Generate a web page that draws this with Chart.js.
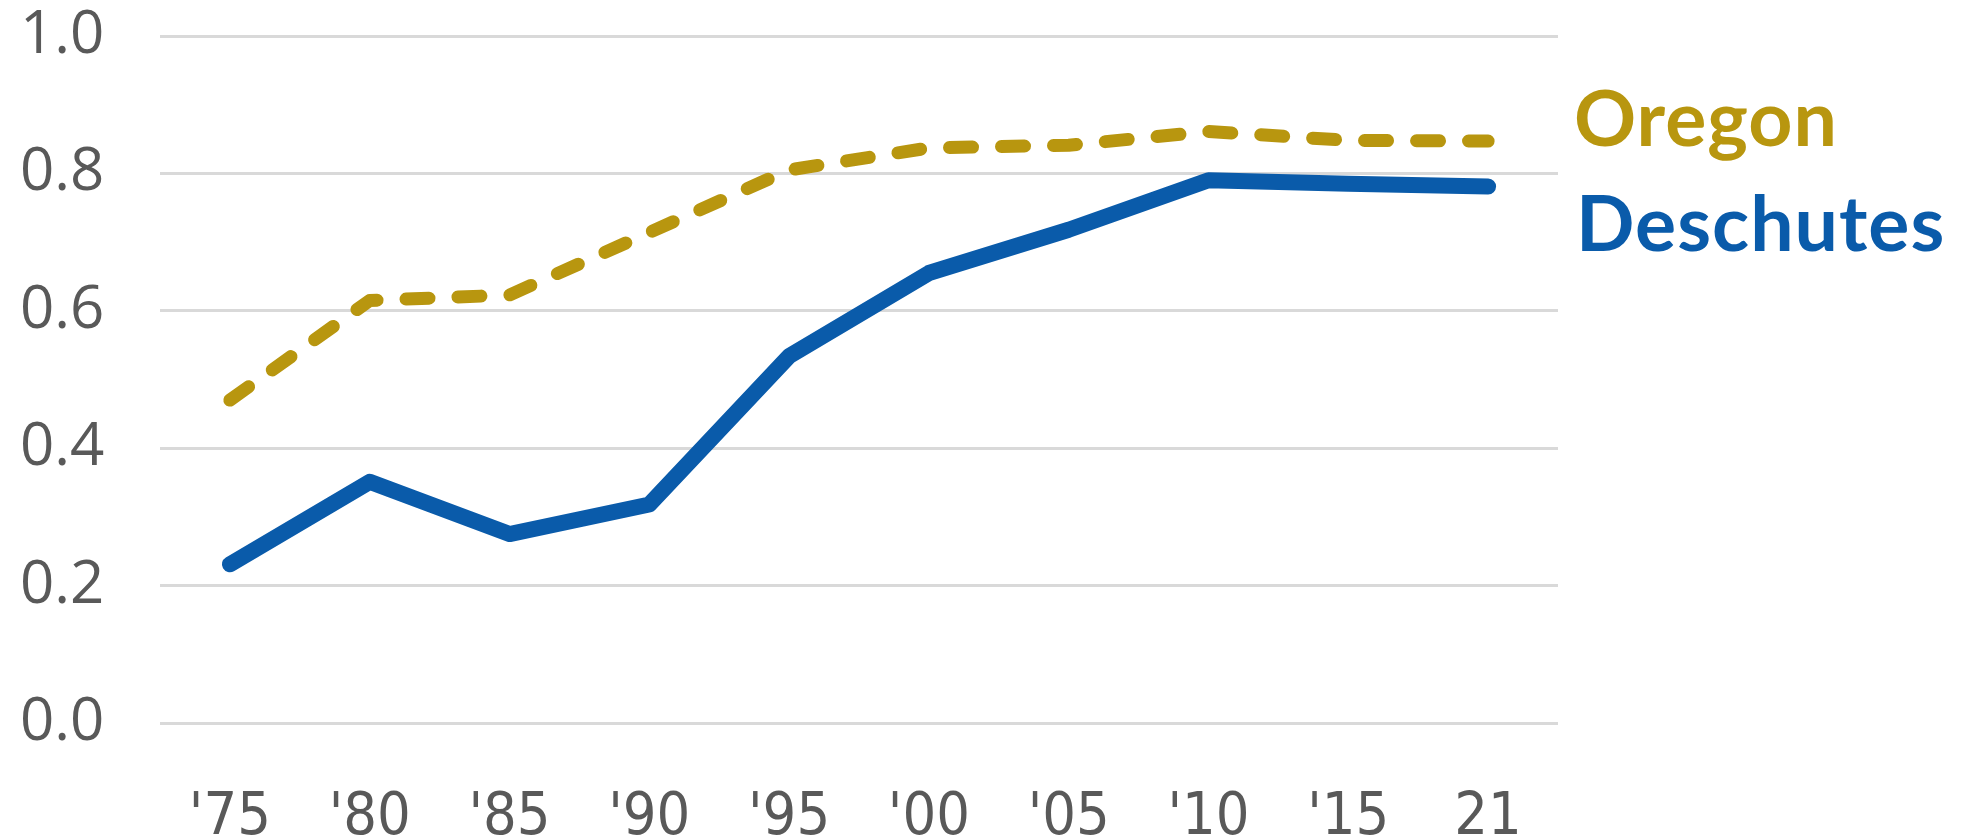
<!DOCTYPE html>
<html>
<head>
<meta charset="utf-8">
<script src="https://cdn.jsdelivr.net/npm/chart.js@4/dist/chart.umd.min.js"></script>
<style>
  html, body { margin: 0; padding: 0; background: #ffffff; }
  #wrap { width: 1965px; height: 836px; position: relative; }
  canvas { display: block; }
</style>
</head>
<body>
<div id="wrap"><canvas id="chart" width="1965" height="836"></canvas></div>
<script>
// Survey years along the x axis
const years = ["'75", "'80", "'85", "'90", "'95", "'00", "'05", "'10", "'15", "21"];

// Share values per year (0 to 1)
const oregon    = [0.470, 0.615, 0.623, 0.714, 0.805, 0.837, 0.841, 0.861, 0.848, 0.847];
const deschutes = [0.231, 0.351, 0.275, 0.318, 0.534, 0.655, 0.718, 0.790, 0.785, 0.781];

// Y axis tick values
const yTicks = [0.0, 0.2, 0.4, 0.6, 0.8, 1.0];

// Series names drawn beside the plot
const seriesNames = ["Oregon", "Deschutes"];

const GOLD = '#B8960F';
const BLUE = '#0A5BAA';

// Draws the series names to the right of the plot area
const sideLabels = {
  id: 'sideLabels',
  afterDatasetsDraw(chart) {
    const { ctx, chartArea } = chart;
    ctx.save();
    ctx.font = "bold 77px Lato, 'Open Sans', sans-serif";
    ctx.textAlign = 'left';
    ctx.textBaseline = 'alphabetic';
    if ('letterSpacing' in ctx) ctx.letterSpacing = '1px';
    ctx.fillStyle = GOLD;
    ctx.fillText(seriesNames[0], chartArea.right + 16, chartArea.top + 110);
    ctx.fillStyle = BLUE;
    ctx.fillText(seriesNames[1], chartArea.right + 18, chartArea.top + 215);
    ctx.restore();
  }
};

new Chart(document.getElementById('chart'), {
  type: 'line',
  data: {
    labels: years,
    datasets: [
      {
        label: seriesNames[0],
        data: oregon,
        borderColor: GOLD,
        borderWidth: 13,
        borderDash: [23, 29],
        borderCapStyle: 'round',
        borderJoinStyle: 'round',
        pointRadius: 0,
        tension: 0,
        fill: false
      },
      {
        label: seriesNames[1],
        data: deschutes,
        borderColor: BLUE,
        borderWidth: 16,
        borderCapStyle: 'round',
        borderJoinStyle: 'round',
        pointRadius: 0,
        tension: 0,
        fill: false
      }
    ]
  },
  options: {
    responsive: false,
    devicePixelRatio: 1,
    animation: false,
    layout: { padding: { top: 36, right: 407, bottom: 0, left: 20 } },
    plugins: {
      legend: { display: false },
      tooltip: { enabled: false },
      title: { display: false }
    },
    scales: {
      x: {
        offset: true,
        grid: { display: false },
        border: { display: false },
        ticks: {
          color: '#595959',
          padding: 52,
          maxRotation: 0,
          autoSkip: false,
          font: { family: "'Liberation Sans Narrow', 'DejaVu Sans Condensed', sans-serif", size: 59 }
        },
        afterFit(scale) { scale.height = 113; }
      },
      y: {
        min: yTicks[0],
        max: yTicks[yTicks.length - 1],
        afterBuildTicks(scale) { scale.ticks = yTicks.map(v => ({ value: v })); },
        grid: { color: '#d9d9d9', lineWidth: 3, drawTicks: false },
        border: { display: false },
        ticks: {
          color: '#595959',
          padding: 0,
          crossAlign: 'far',
          font: { family: "'Open Sans', sans-serif", size: 60 },
          callback: (v) => Number(v).toFixed(1)
        },
        afterFit(scale) { scale.width = 140; }
      }
    }
  },
  plugins: [sideLabels]
});
</script>
</body>
</html>
